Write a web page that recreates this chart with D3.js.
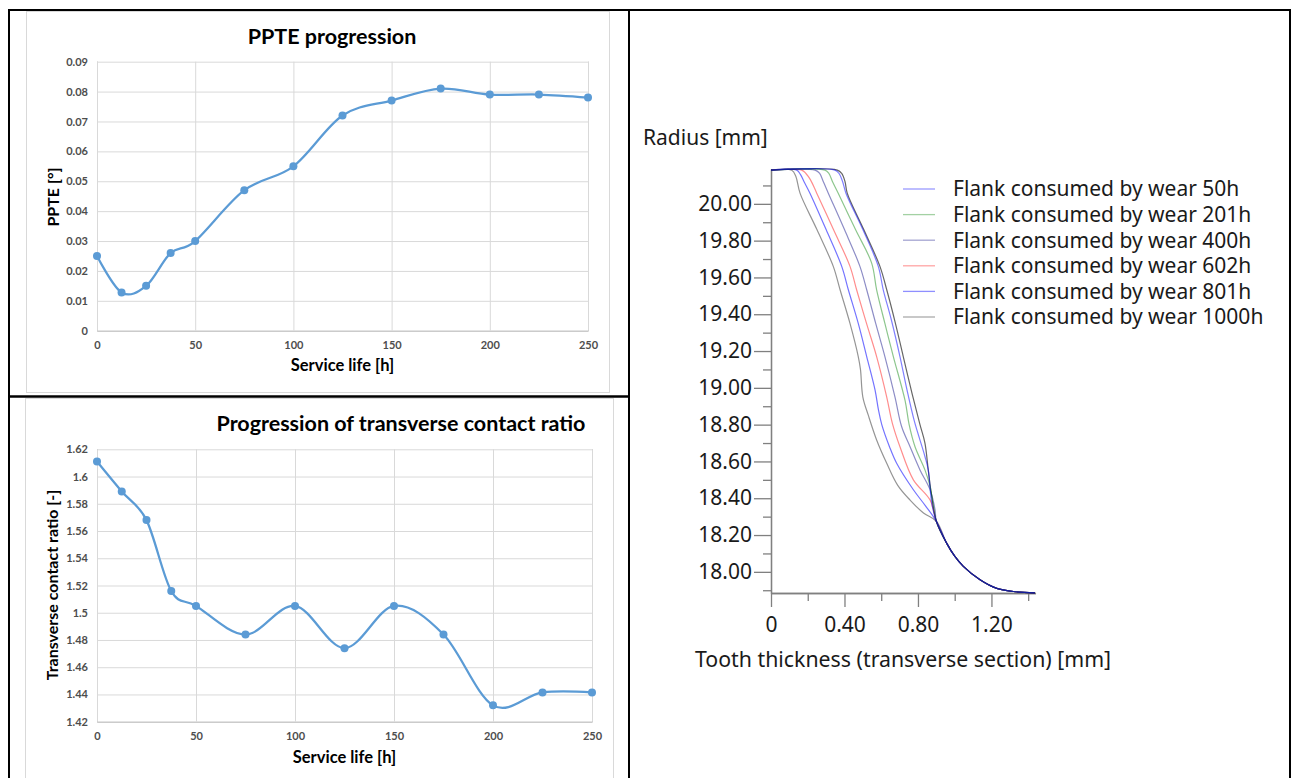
<!DOCTYPE html>
<html>
<head>
<meta charset="utf-8">
<script src="https://cdn.jsdelivr.net/npm/d3@7"></script>
<style>
  body { margin: 0; background: #fff; }
</style>
</head>
<body>
<div id="chart"></div>
<script>
// ---- data: the two Excel charts ----
var hours = [0, 12.5, 25, 37.5, 50, 75, 100, 125, 150, 175, 200, 225, 250];
var ppte = [0.025, 0.0128, 0.015, 0.026, 0.030, 0.047, 0.055, 0.072, 0.077, 0.081, 0.079, 0.079, 0.078];
var contactRatio = [1.611, 1.589, 1.568, 1.516, 1.505, 1.484, 1.505, 1.474, 1.505, 1.484, 1.432, 1.4415, 1.4415];
var hourTicks = [0, 50, 100, 150, 200, 250];
var ppteTicks = [0, 0.01, 0.02, 0.03, 0.04, 0.05, 0.06, 0.07, 0.08, 0.09];
var ratioTicks = [1.42, 1.44, 1.46, 1.48, 1.5, 1.52, 1.54, 1.56, 1.58, 1.6, 1.62];

// ---- data: tooth flank profiles [thickness mm, radius mm] ----
var flankLabels = ["Flank consumed by wear 50h", "Flank consumed by wear 201h", "Flank consumed by wear 400h",
                   "Flank consumed by wear 602h", "Flank consumed by wear 801h", "Flank consumed by wear 1000h"];
var flankNew = [[0,20.183],[0.361,20.183],[0.385,20.165],[0.403,20.12],[0.415,20.058],[0.505,19.86],[0.593,19.66],[0.63,19.533],[0.675,19.36],[0.72,19.17],[0.77,18.96],[0.811,18.80],[0.838,18.70],[0.856,18.554],[0.872,18.43],[0.90,18.275]];
var flank50h = [[0,20.183],[0.348,20.183],[0.37,20.165],[0.39,20.12],[0.408,20.058],[0.50,19.86],[0.584,19.66],[0.611,19.533],[0.655,19.37],[0.702,19.17],[0.74,18.99],[0.78,18.82],[0.838,18.627],[0.856,18.554],[0.875,18.373],[0.90,18.275]];
var flank201h = [[0,20.183],[0.294,20.183],[0.315,20.165],[0.335,20.12],[0.366,20.058],[0.46,19.86],[0.548,19.678],[0.575,19.533],[0.62,19.35],[0.666,19.17],[0.73,18.93],[0.752,18.80],[0.784,18.68],[0.838,18.554],[0.866,18.464],[0.884,18.355],[0.90,18.275]];
var flank400h = [[0,20.183],[0.24,20.183],[0.265,20.165],[0.285,20.12],[0.312,20.058],[0.40,19.86],[0.484,19.66],[0.521,19.533],[0.57,19.35],[0.62,19.17],[0.675,18.95],[0.711,18.79],[0.757,18.68],[0.811,18.554],[0.866,18.446],[0.893,18.337],[0.90,18.275]];
var flank602h = [[0,20.183],[0.167,20.183],[0.19,20.165],[0.215,20.13],[0.249,20.058],[0.34,19.86],[0.43,19.66],[0.466,19.533],[0.52,19.35],[0.575,19.17],[0.63,18.95],[0.66,18.81],[0.702,18.68],[0.775,18.5],[0.866,18.39],[0.90,18.275]];
var flank801h = [[0,20.183],[0.14,20.183],[0.16,20.16],[0.18,20.12],[0.212,20.058],[0.30,19.86],[0.385,19.66],[0.421,19.533],[0.475,19.35],[0.521,19.17],[0.566,18.99],[0.585,18.88],[0.603,18.80],[0.645,18.68],[0.684,18.59],[0.775,18.446],[0.84,18.36],[0.90,18.275]];
var flank1000h = [[0,20.183],[0.113,20.183],[0.135,20.15],[0.158,20.058],[0.25,19.86],[0.339,19.66],[0.376,19.533],[0.43,19.35],[0.475,19.17],[0.487,19.10],[0.50,18.95],[0.53,18.85],[0.575,18.717],[0.63,18.59],[0.69,18.47],[0.757,18.39],[0.83,18.32],[0.90,18.275]];
var rootFillet = [[0.90,18.275],[0.956,18.156],[1.0,18.085],[1.047,18.03],[1.138,17.957],[1.229,17.91],[1.319,17.893],[1.437,17.886]];
var radiusTicks = [18.0, 18.2, 18.4, 18.6, 18.8, 19.0, 19.2, 19.4, 19.6, 19.8, 20.0];
var radiusMinorTicks = [17.9, 18.1, 18.3, 18.5, 18.7, 18.9, 19.1, 19.3, 19.5, 19.7, 19.9, 20.1];
var thickTicks = [0, 0.4, 0.8, 1.2];
var thickMinorTicks = [0.2, 0.6, 1.0, 1.4];

var svg = d3.select("#chart").append("svg")
    .attr("width", 1293)
    .attr("height", 778);

// table frame
var frame = svg.append("g").attr("stroke", "#000").attr("stroke-width", 2);
frame.append("line").attr("x1", 8).attr("x2", 1291).attr("y1", 10).attr("y2", 10);
frame.append("line").attr("x1", 9).attr("x2", 9).attr("y1", 9).attr("y2", 778);
frame.append("line").attr("x1", 629).attr("x2", 629).attr("y1", 9).attr("y2", 778);
frame.append("line").attr("x1", 1290).attr("x2", 1290).attr("y1", 9).attr("y2", 778);
frame.append("line").attr("x1", 8).attr("x2", 630).attr("y1", 396.5).attr("y2", 396.5).attr("stroke-width", 2.5);

// light chart-area borders of the excel charts
svg.append("rect").attr("x", 26.5).attr("y", 11.5).attr("width", 583).attr("height", 381)
    .attr("fill", "none").attr("stroke", "#d9d9d9");
svg.append("rect").attr("x", 25.5).attr("y", 398.5).attr("width", 588).attr("height", 400)
    .attr("fill", "none").attr("stroke", "#d9d9d9");

var excelFont = "Lato, 'Open Sans', sans-serif";

function excelChart(cfg) {
    var g = svg.append("g");
    var x = d3.scaleLinear().domain([0, 250]).range([cfg.left, cfg.right]);
    var y = d3.scaleLinear().domain(d3.extent(cfg.yTicks)).range([cfg.bottom, cfg.top]);

    // horizontal gridlines + y labels
    g.append("g")
        .attr("transform", "translate(" + cfg.left + ",0)")
        .call(d3.axisLeft(y).tickValues(cfg.yTicks).tickSize(-(cfg.right - cfg.left))
            .tickPadding(9).tickFormat(cfg.yFormat))
        .call(function (a) { a.select(".domain").remove(); })
        .call(function (a) { a.selectAll(".tick line").attr("stroke", "#d9d9d9"); })
        .call(function (a) {
            a.selectAll("text").attr("fill", "#4d4d4d").attr("font-family", excelFont)
                .attr("font-weight", "bold").attr("font-size", "11px");
        });

    // vertical gridlines + x labels
    g.append("g")
        .attr("transform", "translate(0," + cfg.bottom + ")")
        .call(d3.axisBottom(x).tickValues(hourTicks).tickSize(-(cfg.bottom - cfg.top))
            .tickPadding(11).tickFormat(d3.format("d")))
        .call(function (a) { a.select(".domain").attr("stroke", "#bfbfbf"); })
        .call(function (a) { a.selectAll(".tick line").attr("stroke", "#d9d9d9"); })
        .call(function (a) {
            a.selectAll("text").attr("fill", "#4d4d4d").attr("font-family", excelFont)
                .attr("font-weight", "bold").attr("font-size", "11px");
        });

    var line = d3.line()
        .x(function (d, i) { return x(hours[i]); })
        .y(function (d) { return y(d); })
        .curve(d3.curveCatmullRom.alpha(0));

    g.append("path")
        .datum(cfg.values)
        .attr("d", line)
        .attr("fill", "none")
        .attr("stroke", "#5b9bd5")
        .attr("stroke-width", 2.25);

    g.selectAll("circle")
        .data(cfg.values)
        .enter()
        .append("circle")
        .attr("cx", function (d, i) { return x(hours[i]); })
        .attr("cy", function (d) { return y(d); })
        .attr("r", 4)
        .attr("fill", "#5b9bd5");

    // titles
    g.append("text")
        .attr("x", cfg.titleX).attr("y", cfg.titleY)
        .attr("text-anchor", "middle")
        .attr("font-family", excelFont).attr("font-weight", "bold").attr("font-size", "21.5px")
        .attr("fill", "#000")
        .text(cfg.title);

    g.append("text")
        .attr("x", (cfg.left + cfg.right) / 2).attr("y", cfg.xTitleY)
        .attr("text-anchor", "middle")
        .attr("font-family", excelFont).attr("font-weight", "bold").attr("font-size", "16.5px")
        .attr("fill", "#000")
        .text("Service life [h]");

    g.append("text")
        .attr("transform", "translate(" + cfg.yTitleX + "," + cfg.yTitleY + ") rotate(-90)")
        .attr("text-anchor", "middle")
        .attr("font-family", excelFont).attr("font-weight", "bold").attr("font-size", "16px")
        .attr("fill", "#000")
        .text(cfg.yTitle);
}

excelChart({
    values: ppte, yTicks: ppteTicks,
    yFormat: function (d) { return d === 0 ? "0" : d.toFixed(2); },
    left: 97, right: 588, top: 61.7, bottom: 330.7,
    title: "PPTE progression", titleX: 332, titleY: 44,
    xTitleY: 371, yTitle: "PPTE [°]", yTitleX: 59, yTitleY: 197
});

excelChart({
    values: contactRatio, yTicks: ratioTicks,
    yFormat: function (d) { return String(+d.toFixed(2)); },
    left: 97, right: 592, top: 449.3, bottom: 721.7,
    title: "Progression of transverse contact ratio", titleX: 401, titleY: 431,
    xTitleY: 763, yTitle: "Transverse contact ratio [-]", yTitleX: 58, yTitleY: 585
});

// ---- right: tooth profile chart ----
var pFont = "'Noto Sans', 'DejaVu Sans', sans-serif";
var px = d3.scaleLinear().domain([0, 1.44]).range([771, 771 + 1.44 * 183.7]);
var py = d3.scaleLinear().domain([17.885, 20.19]).range([593, 593 - 2.305 * 184]);
var profile = svg.append("g");

function styleAxisText(a) {
    a.selectAll("text").attr("fill", "#1a1a1a").attr("font-family", pFont).attr("font-size", "21px");
    a.selectAll("line, path").attr("stroke", "#808080").attr("stroke-width", 1.3);
}

profile.append("g")
    .attr("transform", "translate(" + px(0) + ",0)")
    .call(d3.axisLeft(py).tickValues(radiusMinorTicks).tickSize(8).tickFormat("").tickSizeOuter(0))
    .call(styleAxisText);
profile.append("g")
    .attr("transform", "translate(" + px(0) + ",0)")
    .call(d3.axisLeft(py).tickValues(radiusTicks).tickSize(17).tickPadding(2)
        .tickFormat(function (d) { return d.toFixed(2); }).tickSizeOuter(0))
    .call(styleAxisText);
profile.append("g")
    .attr("transform", "translate(0," + py(17.885) + ")")
    .call(d3.axisBottom(px).tickValues(thickMinorTicks).tickSize(8).tickFormat("").tickSizeOuter(0))
    .call(styleAxisText);
profile.append("g")
    .attr("transform", "translate(0," + py(17.885) + ")")
    .call(d3.axisBottom(px).tickValues(thickTicks).tickSize(14).tickPadding(10)
        .tickFormat(function (d) { return d === 0 ? "0" : d.toFixed(2); }).tickSizeOuter(0))
    .call(styleAxisText);

profile.append("text")
    .attr("x", 643).attr("y", 145)
    .attr("font-family", pFont).attr("font-size", "21px").attr("fill", "#1a1a1a")
    .text("Radius [mm]");
profile.append("text")
    .attr("x", 695).attr("y", 667)
    .attr("font-family", pFont).attr("font-size", "21.3px").attr("fill", "#1a1a1a")
    .text("Tooth thickness (transverse section) [mm]");

var flankSeries = [
    { pts: flankNew, color: "#000000", op: 0.6, label: null },
    { pts: flank1000h, color: "#000000", op: 0.42, label: flankLabels[5] },
    { pts: flank801h, color: "#0000ff", op: 0.55, label: flankLabels[4] },
    { pts: flank602h, color: "#ff0000", op: 0.45, label: flankLabels[3] },
    { pts: flank400h, color: "#000080", op: 0.45, label: flankLabels[2] },
    { pts: flank201h, color: "#008000", op: 0.45, label: flankLabels[1] },
    { pts: flank50h, color: "#0000ff", op: 0.5, label: flankLabels[0] }
];

var flankLine = d3.line()
    .x(function (d) { return px(d[0]); })
    .y(function (d) { return py(d[1]); })
    .curve(d3.curveCatmullRom.alpha(0.5));

profile.selectAll("path.flank")
    .data(flankSeries)
    .enter()
    .append("path")
    .attr("class", "flank")
    .attr("d", function (d) { return flankLine(d.pts.concat(rootFillet.slice(1))); })
    .attr("fill", "none")
    .attr("stroke", function (d) { return d.color; })
    .attr("stroke-opacity", function (d) { return d.op; })
    .attr("stroke-width", 1.2);

// legend
var legendItems = flankSeries.filter(function (d) { return d.label; }).reverse();
var legend = profile.selectAll("g.legend")
    .data(legendItems)
    .enter()
    .append("g")
    .attr("class", "legend")
    .attr("transform", function (d, i) { return "translate(903," + (189 + i * 25.6) + ")"; });
legend.append("line")
    .attr("x1", 0).attr("x2", 32)
    .attr("stroke", function (d) { return d.color; })
    .attr("stroke-opacity", function (d) { return d.op * 0.8; })
    .attr("stroke-width", 1.3);
legend.append("text")
    .attr("x", 50).attr("dy", "0.35em")
    .attr("font-family", pFont).attr("font-size", "21px").attr("fill", "#1a1a1a")
    .text(function (d) { return d.label; });
</script>
</body>
</html>
